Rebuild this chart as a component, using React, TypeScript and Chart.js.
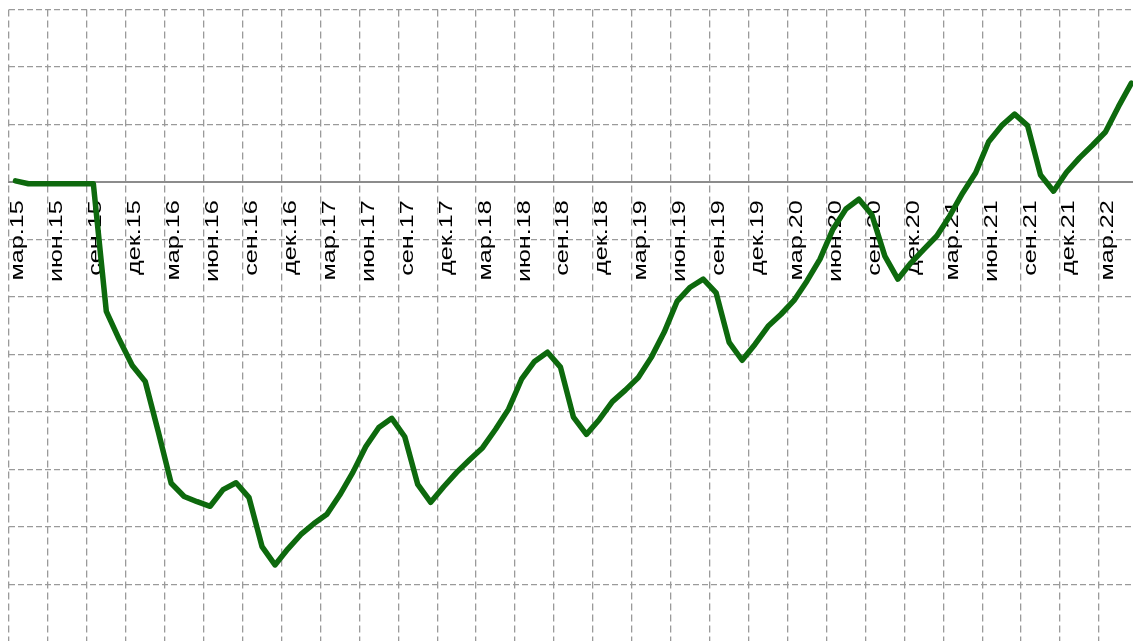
import { useEffect, useRef } from 'react';
import { Chart, registerables } from 'chart.js';

Chart.register(...registerables);

const categories: string[] = [
  'мар.15', 'апр.15', 'май.15', 'июн.15', 'июл.15', 'авг.15', 'сен.15', 'окт.15', 'ноя.15', 'дек.15',
  'янв.16', 'фев.16', 'мар.16', 'апр.16', 'май.16', 'июн.16', 'июл.16', 'авг.16', 'сен.16', 'окт.16', 'ноя.16', 'дек.16',
  'янв.17', 'фев.17', 'мар.17', 'апр.17', 'май.17', 'июн.17', 'июл.17', 'авг.17', 'сен.17', 'окт.17', 'ноя.17', 'дек.17',
  'янв.18', 'фев.18', 'мар.18', 'апр.18', 'май.18', 'июн.18', 'июл.18', 'авг.18', 'сен.18', 'окт.18', 'ноя.18', 'дек.18',
  'янв.19', 'фев.19', 'мар.19', 'апр.19', 'май.19', 'июн.19', 'июл.19', 'авг.19', 'сен.19', 'окт.19', 'ноя.19', 'дек.19',
  'янв.20', 'фев.20', 'мар.20', 'апр.20', 'май.20', 'июн.20', 'июл.20', 'авг.20', 'сен.20', 'окт.20', 'ноя.20', 'дек.20',
  'янв.21', 'фев.21', 'мар.21', 'апр.21', 'май.21', 'июн.21', 'июл.21', 'авг.21', 'сен.21', 'окт.21', 'ноя.21', 'дек.21',
  'янв.22', 'фев.22', 'мар.22', 'апр.22', 'май.22',
];

const seriesValues: number[] = [
  0.2, -0.3, -0.3, -0.3, -0.3, -0.3, -0.3, -22.5, -27.4, -31.9,
  -34.7, -43.4, -52.4, -54.7, -55.6, -56.4, -53.5, -52.3, -54.9, -63.4,
  -66.6, -63.8, -61.3, -59.4, -57.8, -54.4, -50.5, -46.0, -42.7, -41.1,
  -44.3, -52.6, -55.7, -53.0, -50.5, -48.3, -46.2, -43.0, -39.5, -34.3,
  -31.2, -29.6, -32.2, -40.9, -43.9, -41.3, -38.2, -36.2, -34.0, -30.5,
  -26.1, -20.7, -18.3, -16.9, -19.3, -27.9, -31.0, -28.2, -25.1, -23.0,
  -20.6, -17.2, -13.4, -8.2, -4.7, -3.0, -5.7, -12.9, -16.9, -14.1,
  -11.7, -9.4, -5.9, -1.9, 1.6, 7.0, 9.8, 11.8, 9.8, 1.2,
  -1.6, 1.7, 4.2, 6.4, 8.7, 13.1, 17.2,
];

const labelEvery = 3;
const yMin = -80;
const yMax = 30;
const yStep = 10;

const GRID = '#9a9a9a';
const AXIS = '#8c8c8c';
const LINE = '#0d690d';
const LABEL_STRETCH = 1.4;

// Stretch the category labels along their (vertical) reading direction,
// around the axis line, like the reference rendering.
const stretchLabels = {
  id: 'stretchLabels',
  beforeDraw(chart: any) {
    const xs: any = chart.scales.x;
    if (!xs || xs.__stretched) return;
    const orig = xs.drawLabels;
    xs.drawLabels = function (area: any) {
      const ctx = this.ctx;
      const y0 = chart.scales.y.getPixelForValue(0);
      ctx.save();
      ctx.translate(0, y0);
      ctx.scale(1, LABEL_STRETCH);
      ctx.translate(0, -y0);
      orig.call(this, area);
      ctx.restore();
    };
    xs.__stretched = true;
  },
};

export default function App() {
  const ref = useRef<HTMLCanvasElement | null>(null);

  useEffect(() => {
    if (!ref.current) return;
    const chart = new Chart(ref.current, {
      type: 'line',
      data: {
        labels: categories,
        datasets: [
          {
            data: seriesValues,
            borderColor: LINE,
            borderWidth: 5.5,
            borderCapStyle: 'round',
            borderJoinStyle: 'round',
            pointRadius: 0,
            tension: 0,
            fill: false,
          },
        ],
      },
      options: {
        responsive: false,
        animation: false,
        devicePixelRatio: 1,
        layout: { autoPadding: false, padding: { left: 9, right: 2, top: 9.5, bottom: 1 } } as any,
        plugins: { legend: { display: false }, tooltip: { enabled: false } },
        scales: {
          x: {
            type: 'category',
            position: { y: 0 } as any,
            offset: true,
            grid: {
              offset: true,
              drawTicks: false,
              lineWidth: 1.3,
              color: (ctx: any) => (ctx.index % labelEvery === 0 ? GRID : 'rgba(0,0,0,0)'),
            },
            border: { display: true, color: AXIS, width: 2, dash: [7, 4] },
            ticks: {
              autoSkip: false,
              minRotation: 90,
              maxRotation: 90,
              padding: 13,
              labelOffset: 3,
              color: '#000',
              font: { family: '"Liberation Sans", Arial, sans-serif', size: 18 },
              callback: (_v: any, i: number) => (i % labelEvery === 0 ? categories[i] : ''),
            },
          },
          y: {
            min: yMin,
            max: yMax,
            grid: {
              drawTicks: false,
              lineWidth: 1.3,
              color: (ctx: any) => (ctx.tick && ctx.tick.value === 0 ? 'rgba(0,0,0,0)' : GRID),
            },
            border: { display: false, dash: [6, 3] },
            ticks: { display: false, stepSize: yStep },
          },
        },
      },
      plugins: [stretchLabels],
    });
    return () => chart.destroy();
  }, []);

  return (
    <div
      style={{
        position: 'fixed',
        left: 0,
        top: 0,
        width: 1133,
        height: 641,
        overflow: 'hidden',
        background: '#fff',
      }}
    >
      <canvas ref={ref} width={1166} height={643} style={{ display: 'block' }} />
    </div>
  );
}
